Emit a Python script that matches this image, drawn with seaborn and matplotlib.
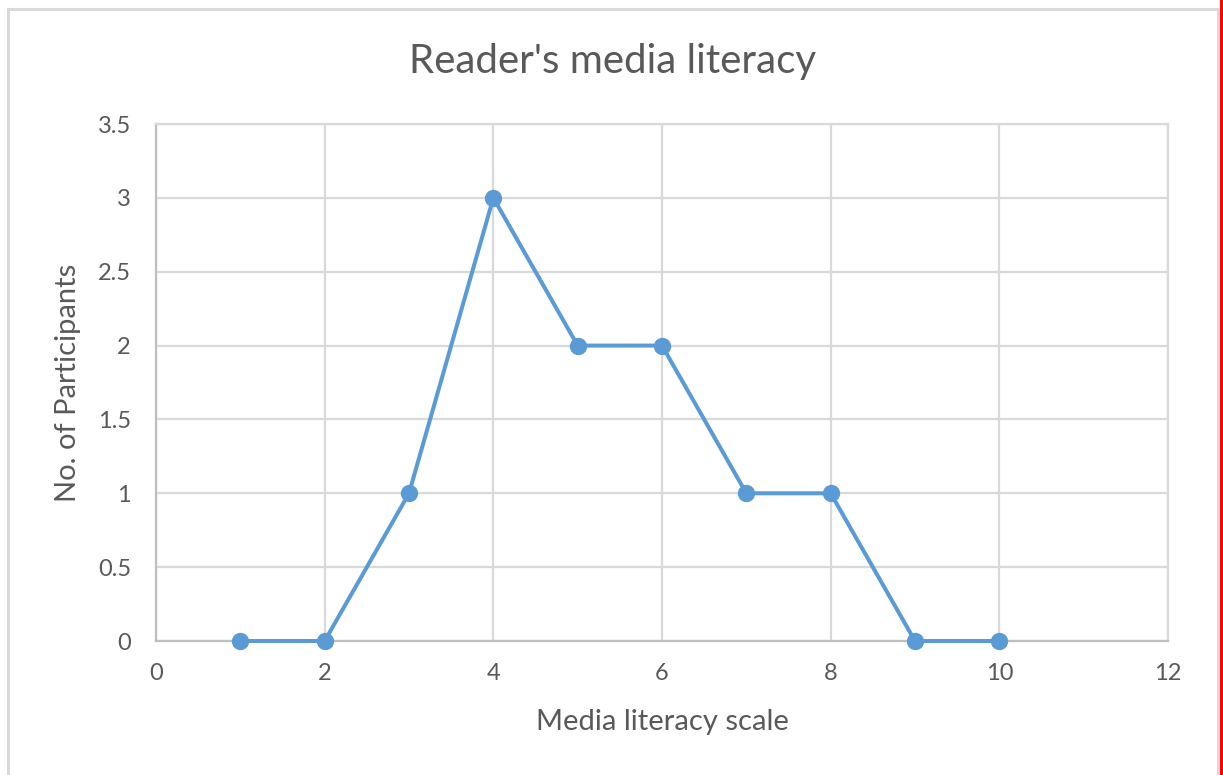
import matplotlib
matplotlib.use("Agg")
import matplotlib.pyplot as plt
import seaborn as sns
import pandas as pd
from matplotlib.patches import Rectangle

scale_values = [1, 2, 3, 4, 5, 6, 7, 8, 9, 10]
participants = [0, 0, 1, 3, 2, 2, 1, 1, 0, 0]
x_ticks = [0, 2, 4, 6, 8, 10, 12]
y_ticks = [0, 0.5, 1, 1.5, 2, 2.5, 3, 3.5]
y_tick_labels = ["0", "0.5", "1", "1.5", "2", "2.5", "3", "3.5"]

sns.set_style("white")
plt.rcParams['font.family'] = ['Lato', 'DejaVu Sans']

df = pd.DataFrame({"scale": scale_values, "n": participants})

fig = plt.figure(figsize=(12.23, 7.75), dpi=100)
W, H = 1223, 775
L, R, T, B = 156, 1168, 124, 641
ax = fig.add_axes([L / W, 1 - B / H, (R - L) / W, (B - T) / H])

grid_c = "#d9d9d9"
text_c = "#595959"
line_c = "#5b9bd5"

sns.lineplot(data=df, x="scale", y="n", ax=ax, color=line_c, linewidth=2.9,
             marker="o", markersize=12.5, markeredgewidth=0, zorder=3,
             clip_on=False)

ax.set_xlim(0, 12)
ax.set_ylim(0, 3.5)
ax.set_xticks(x_ticks)
ax.set_yticks(y_ticks)
ax.set_yticklabels(y_tick_labels)
ax.grid(True, color=grid_c, linewidth=1.6)
ax.set_axisbelow(True)
for side, sp in ax.spines.items():
    sp.set_color(grid_c)
    sp.set_linewidth(1.6)
ax.spines["left"].set_color("#bfbfbf")
ax.spines["bottom"].set_color("#bfbfbf")
ax.tick_params(axis="both", length=0, labelsize=17, colors=text_c)
ax.tick_params(axis="y", pad=18)
ax.tick_params(axis="x", pad=16)

ax.set_xlabel("Media literacy scale", fontsize=21, color=text_c, va="center")
ax.xaxis.set_label_coords(0.5, -(722 - B) / (B - T))
ax.set_ylabel("No. of Participants", fontsize=21, color=text_c, va="center")
ax.yaxis.set_label_coords(-(L - 68) / (R - L), 0.5)
fig.text((408 + 817) / 2 / W, 1 - 61 / H, "Reader's media literacy",
         ha="center", va="center", fontsize=29, color=text_c)

# outer chart frame
fig.patches.append(Rectangle((8 / W, -0.01), (1218 - 8) / W, 1 - 9 / H + 0.01,
                             transform=fig.transFigure, fill=False,
                             edgecolor="#d9d9d9", linewidth=2.2))
fig.patches.append(Rectangle((1220 / W, 0), 3 / W, 1, transform=fig.transFigure,
                             facecolor="#ff0000", edgecolor="none"))

fig.savefig("out.png", dpi=100)
